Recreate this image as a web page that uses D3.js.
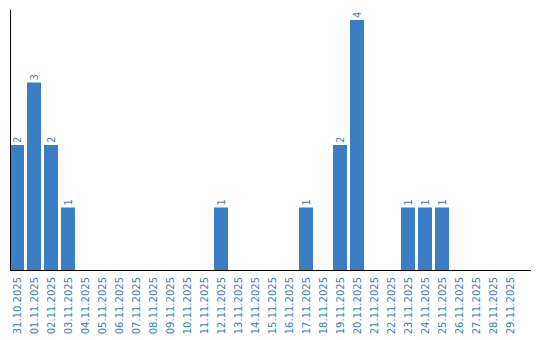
<!DOCTYPE html>
<html>
<head>
<meta charset="utf-8">
<script src="https://cdn.jsdelivr.net/npm/d3@7"></script>
<style>
  body { margin: 0; background: #fff; }
  svg { display: block; font-family: "DejaVu Sans", Verdana, sans-serif; }
</style>
</head>
<body>
<div id="chart"></div>
<script>
var dates = ["31.10.2025", "01.11.2025", "02.11.2025", "03.11.2025", "04.11.2025",
    "05.11.2025", "06.11.2025", "07.11.2025", "08.11.2025", "09.11.2025",
    "10.11.2025", "11.11.2025", "12.11.2025", "13.11.2025", "14.11.2025",
    "15.11.2025", "16.11.2025", "17.11.2025", "18.11.2025", "19.11.2025",
    "20.11.2025", "21.11.2025", "22.11.2025", "23.11.2025", "24.11.2025",
    "25.11.2025", "26.11.2025", "27.11.2025", "28.11.2025", "29.11.2025"];
var counts = [2, 3, 2, 1, 0, 0, 0, 0, 0, 0,
    0, 0, 1, 0, 0, 0, 0, 1, 0, 2,
    4, 0, 0, 1, 1, 1, 0, 0, 0, 0];

var BLUE = "#3b7ec3";
var width = 540,
    height = 340;

var svg = d3.select("#chart")
    .append("svg")
    .attr("width", width)
    .attr("height", height);

var x = d3.scaleBand()
    .domain(dates)
    .range([10, 517])
    .paddingInner(3 / 17)
    .paddingOuter(0);

var y = d3.scaleLinear()
    .domain([0, 4])
    .range([270, 20]);

var data = dates.map(function (d, i) {
    return { date: d, value: counts[i] };
});

svg.selectAll(".bar")
    .data(data.filter(function (d) { return d.value > 0; }))
    .enter().append("rect")
    .attr("class", "bar")
    .attr("x", function (d) { return x(d.date); })
    .attr("width", x.bandwidth())
    .attr("y", function (d) { return y(d.value); })
    .attr("height", function (d) { return y(0) - y(d.value); })
    .attr("fill", BLUE);

svg.selectAll(".value")
    .data(data.filter(function (d) { return d.value > 0; }))
    .enter().append("text")
    .attr("class", "value")
    .attr("transform", function (d) {
        return "translate(" + (x(d.date) + x.bandwidth() / 2) + "," + (y(d.value) - 2) + ") rotate(-90)";
    })
    .attr("dy", "0.35em")
    .attr("fill", BLUE)
    .attr("font-size", "10px")
    .text(function (d) { return d.value; });

svg.selectAll(".tick-label")
    .data(dates)
    .enter().append("text")
    .attr("class", "tick-label")
    .attr("transform", function (d) {
        return "translate(" + (x(d) + x.bandwidth() / 2) + ",277) rotate(-90)";
    })
    .attr("text-anchor", "end")
    .attr("dy", "0.35em")
    .attr("fill", BLUE)
    .attr("font-size", "10px")
    .text(function (d) { return d; });

// axis lines
svg.append("line")
    .attr("x1", 10.5).attr("x2", 10.5)
    .attr("y1", 10).attr("y2", 270)
    .attr("stroke", "#000");

svg.append("line")
    .attr("x1", 10).attr("x2", 531)
    .attr("y1", 270.5).attr("y2", 270.5)
    .attr("stroke", "#000");
</script>
</body>
</html>
